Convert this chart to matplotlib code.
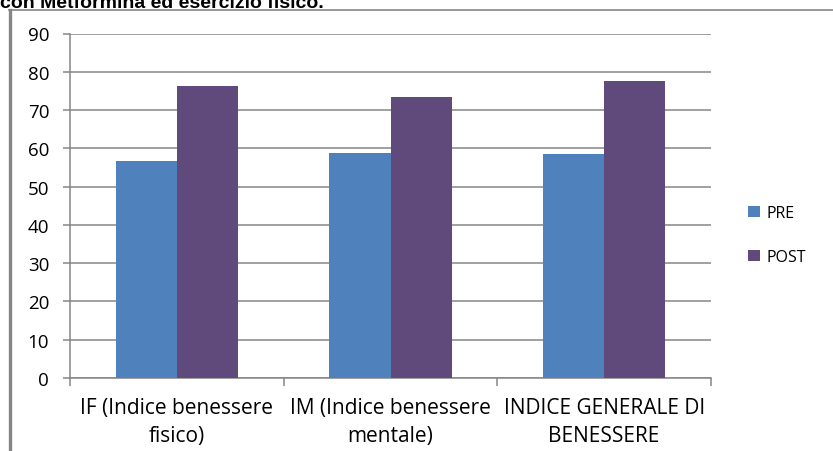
import matplotlib
matplotlib.use("Agg")
import matplotlib.pyplot as plt
import numpy as np
from matplotlib.lines import Line2D
from matplotlib.patches import Patch

categories = ["IF (Indice benessere\nfisico)",
              "IM (Indice benessere\nmentale)",
              "INDICE GENERALE DI\nBENESSERE"]
pre_values = [56.7, 58.8, 58.5]
post_values = [76.2, 73.5, 77.5]
series_names = ["PRE", "POST"]
y_ticks = [0, 10, 20, 30, 40, 50, 60, 70, 80, 90]
title_text = "con Metformina ed esercizio fisico."

pre_color = "#4F81BD"
post_color = "#604A7B"
grid_color = "#868686"

plt.rcParams["font.family"] = ["Open Sans", "DejaVu Sans"]

W, H = 833, 452
fig = plt.figure(figsize=(W / 100, H / 100), dpi=100)
ax = fig.add_axes([70 / W, 1 - 379 / H, (711 - 70) / W, (379 - 34.5) / H])

x = np.arange(len(categories))
w = 0.2857
ax.bar(x - w / 2, pre_values, width=w, color=pre_color, zorder=3)
ax.bar(x + w / 2, post_values, width=w, color=post_color, zorder=3)

ax.set_xlim(-0.5, len(categories) - 0.5)
ax.set_ylim(0, 90)
ax.set_yticks(y_ticks)
ax.set_yticklabels([str(v) for v in y_ticks], fontsize=13.5)
ax.yaxis.grid(True, color=grid_color, linewidth=1.1, zorder=0)

# category labels centred, tick marks at the group boundaries
ax.set_xticks(x)
ax.set_xticklabels(categories, fontsize=15, linespacing=1.4)
ax.tick_params(axis="x", which="major", length=0, pad=14)
ax.set_xticks(np.arange(len(categories) + 1) - 0.5, minor=True)
ax.tick_params(axis="x", which="minor", length=6, color=grid_color, width=1.1)
ax.tick_params(axis="y", length=5, color=grid_color, width=1.1, pad=10)

for s in ["top", "right"]:
    ax.spines[s].set_visible(False)
for s in ["left", "bottom"]:
    ax.spines[s].set_color(grid_color)
    ax.spines[s].set_linewidth(1.1)

handles = [Patch(facecolor=pre_color), Patch(facecolor=post_color)]
fig.legend(handles, series_names, loc="center left",
           bbox_to_anchor=(734 / W, 1 - 236 / H), frameon=False,
           fontsize=11.5, handlelength=0.7, handleheight=0.7,
           handletextpad=0.45, labelspacing=1.75)

# outer frame of the chart box
fig.add_artist(Line2D([10 / W, 10 / W], [0, 1 - 10.5 / H], color=grid_color,
                      linewidth=2.4, transform=fig.transFigure))
fig.add_artist(Line2D([9 / W, 1], [1 - 10.5 / H, 1 - 10.5 / H], color=grid_color,
                      linewidth=1.2, transform=fig.transFigure))

fig.text(0 / W, 1 - 8 / H, title_text, fontsize=14, fontweight="bold",
         family=["Liberation Sans", "DejaVu Sans"], va="baseline", ha="left")

fig.savefig("out.png", dpi=100)
